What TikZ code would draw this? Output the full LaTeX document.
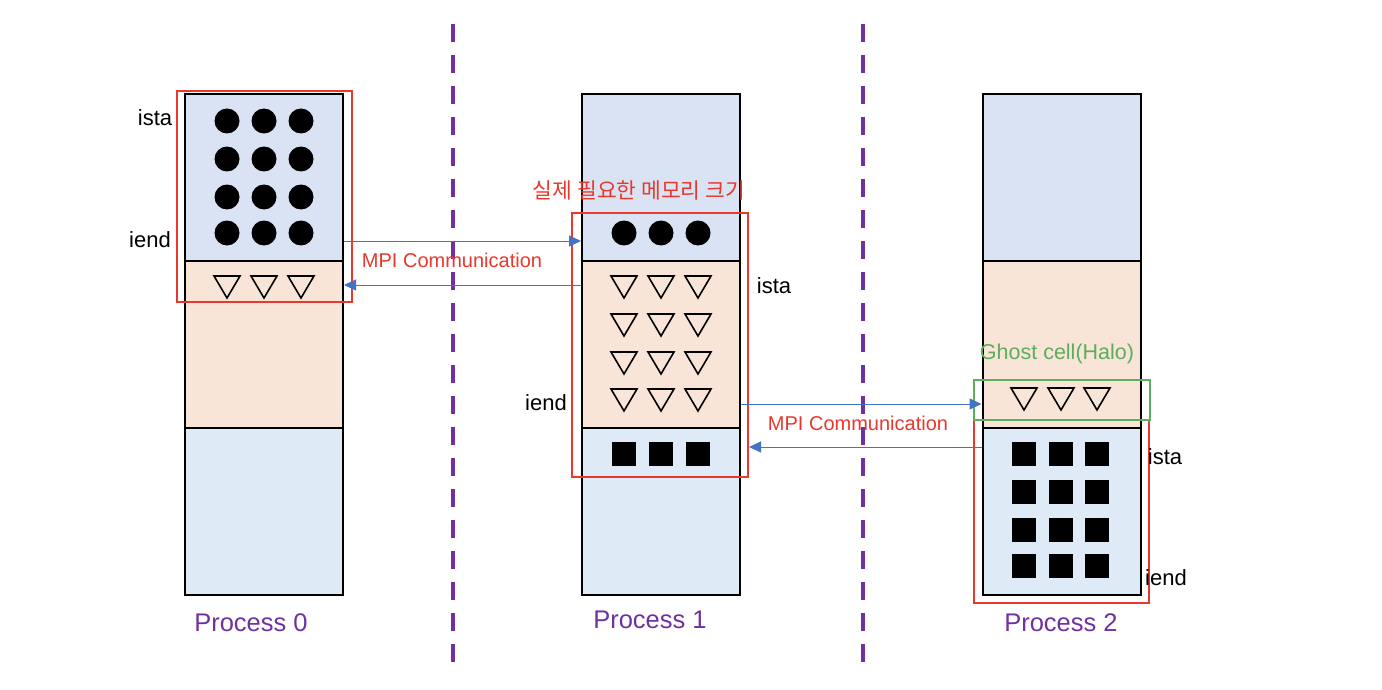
\documentclass[tikz,border=0pt]{standalone}
\usepackage{fontspec}
\setmainfont{Liberation Sans}
\newfontfamily\kor{Noto Sans CJK KR}
\usetikzlibrary{arrows.meta,positioning}
\definecolor{segA}{RGB}{218,227,243}
\definecolor{segB}{RGB}{248,229,215}
\definecolor{segC}{RGB}{222,235,247}
\definecolor{mred}{RGB}{232,56,45}
\definecolor{mgreen}{RGB}{92,174,92}
\definecolor{mpurple}{RGB}{112,48,160}
\definecolor{mblue}{RGB}{68,114,196}

\begin{document}
\begin{tikzpicture}[x=1pt,y=-1pt,
    seg/.style={draw=black,line width=2pt,inner sep=0pt,
                minimum width=158pt,minimum height=167pt},
    redbox/.style={draw=mred,line width=2pt,inner sep=0pt},
    halo/.style={draw=mgreen,line width=2pt,inner sep=0pt},
    idx/.style={font=\fontsize{22}{26}\selectfont,inner sep=0pt},
    proc/.style={text=mpurple,font=\fontsize{25.5}{30}\selectfont,inner sep=0pt},
    comm/.style={draw=mblue,line width=1pt,-{Triangle[length=12pt,width=11pt]}},
    mpi/.style={text=mred,font=\fontsize{20}{24}\selectfont,inner sep=0pt},
    tri/.style={draw=black,line width=1.6pt,line join=miter},
    sep/.style={draw=mpurple,line width=4pt,dash pattern=on 18pt off 13pt}]
    \useasboundingbox (0,0) rectangle (1382,690);
    % process columns
    \foreach \i/\cx in {0/264,1/661,2/1061.5}{
      \node[seg,fill=segA] (p\i a) at (\cx,177.5) {};
      \node[seg,fill=segB] (p\i b) at (\cx,344.5) {};
      \node[seg,fill=segC] (p\i c) at (\cx,511.5) {};
    }
    % process boundaries
    \draw[sep] (453,24) -- (453,664);
    \draw[sep] (862.5,24) -- (862.5,664);
    % process 0 data
    \foreach \x in {227,264,301}{
      \foreach \y in {121,159,197,233}
        \fill (\x,\y) circle[radius=12.5pt];
      \draw[tri] (\x-13,276) -- (\x+13,276) -- (\x,298) -- cycle;
    }
    % process 1 data
    \foreach \x in {624,661,698}{
      \fill (\x,233) circle[radius=12.5pt];
      \foreach \y in {287,325,363,400}
        \draw[tri] (\x-13,\y-11) -- (\x+13,\y-11) -- (\x,\y+11) -- cycle;
      \fill (\x-12,442) rectangle (\x+12,466);
    }
    % process 2 data
    \foreach \x in {1024,1061,1097}{
      \draw[tri] (\x-13,388) -- (\x+13,388) -- (\x,410) -- cycle;
      \foreach \y in {454,492,530,566}
        \fill (\x-12,\y-12) rectangle (\x+12,\y+12);
    }
    % memory actually needed
    \node[redbox,minimum width=175pt,minimum height=211pt] (r0) at (264.5,196.5) {};
    \node[redbox,minimum width=176pt,minimum height=264pt] (r1) at (660,345) {};
    \node[redbox,minimum width=175pt,minimum height=183pt] (r2) at (1061.5,511.5) {};
    \node[halo,minimum width=176pt,minimum height=40pt] (g2) at (1062,400) {};
    % labels
    \node[idx] (is0) at (155,118) {ista};
    \node[idx] (ie0) at (150,240) {iend};
    \node[idx] (is1) at (774,286) {ista};
    \node[idx] (ie1) at (546,403) {iend};
    \node[idx] (is2) at (1165,457) {ista};
    \node[idx] (ie2) at (1166,578) {iend};
    \node[text=mred,font=\kor\fontsize{21.5}{26}\selectfont,inner sep=0pt] (need) at (639,190) {실제 필요한 메모리 크기};
    \node[text=mgreen,font=\fontsize{21.5}{26}\selectfont,inner sep=0pt] (ghost) at (1057,354) {Ghost cell(Halo)};
    \node[proc] (n0) at (251,623) {Process 0};
    \node[proc] (n1) at (650,620) {Process 1};
    \node[proc] (n2) at (1061,623) {Process 2};
    % communication
    \draw[comm] (p0a.east |- 0,241) -- (p1a.west |- 0,241);
    \draw[comm] (p1b.west |- 0,285) -- (p0b.east |- 0,285);
    \draw[comm] (p1b.east |- 0,404) -- (p2b.west |- 0,404);
    \draw[comm] (p2c.west |- 0,447) -- (r1.east |- 0,447);
    \node[mpi] (m01) at (452,260) {MPI Communication};
    \node[mpi] (m12) at (858,423) {MPI Communication};
\end{tikzpicture}
\end{document}
